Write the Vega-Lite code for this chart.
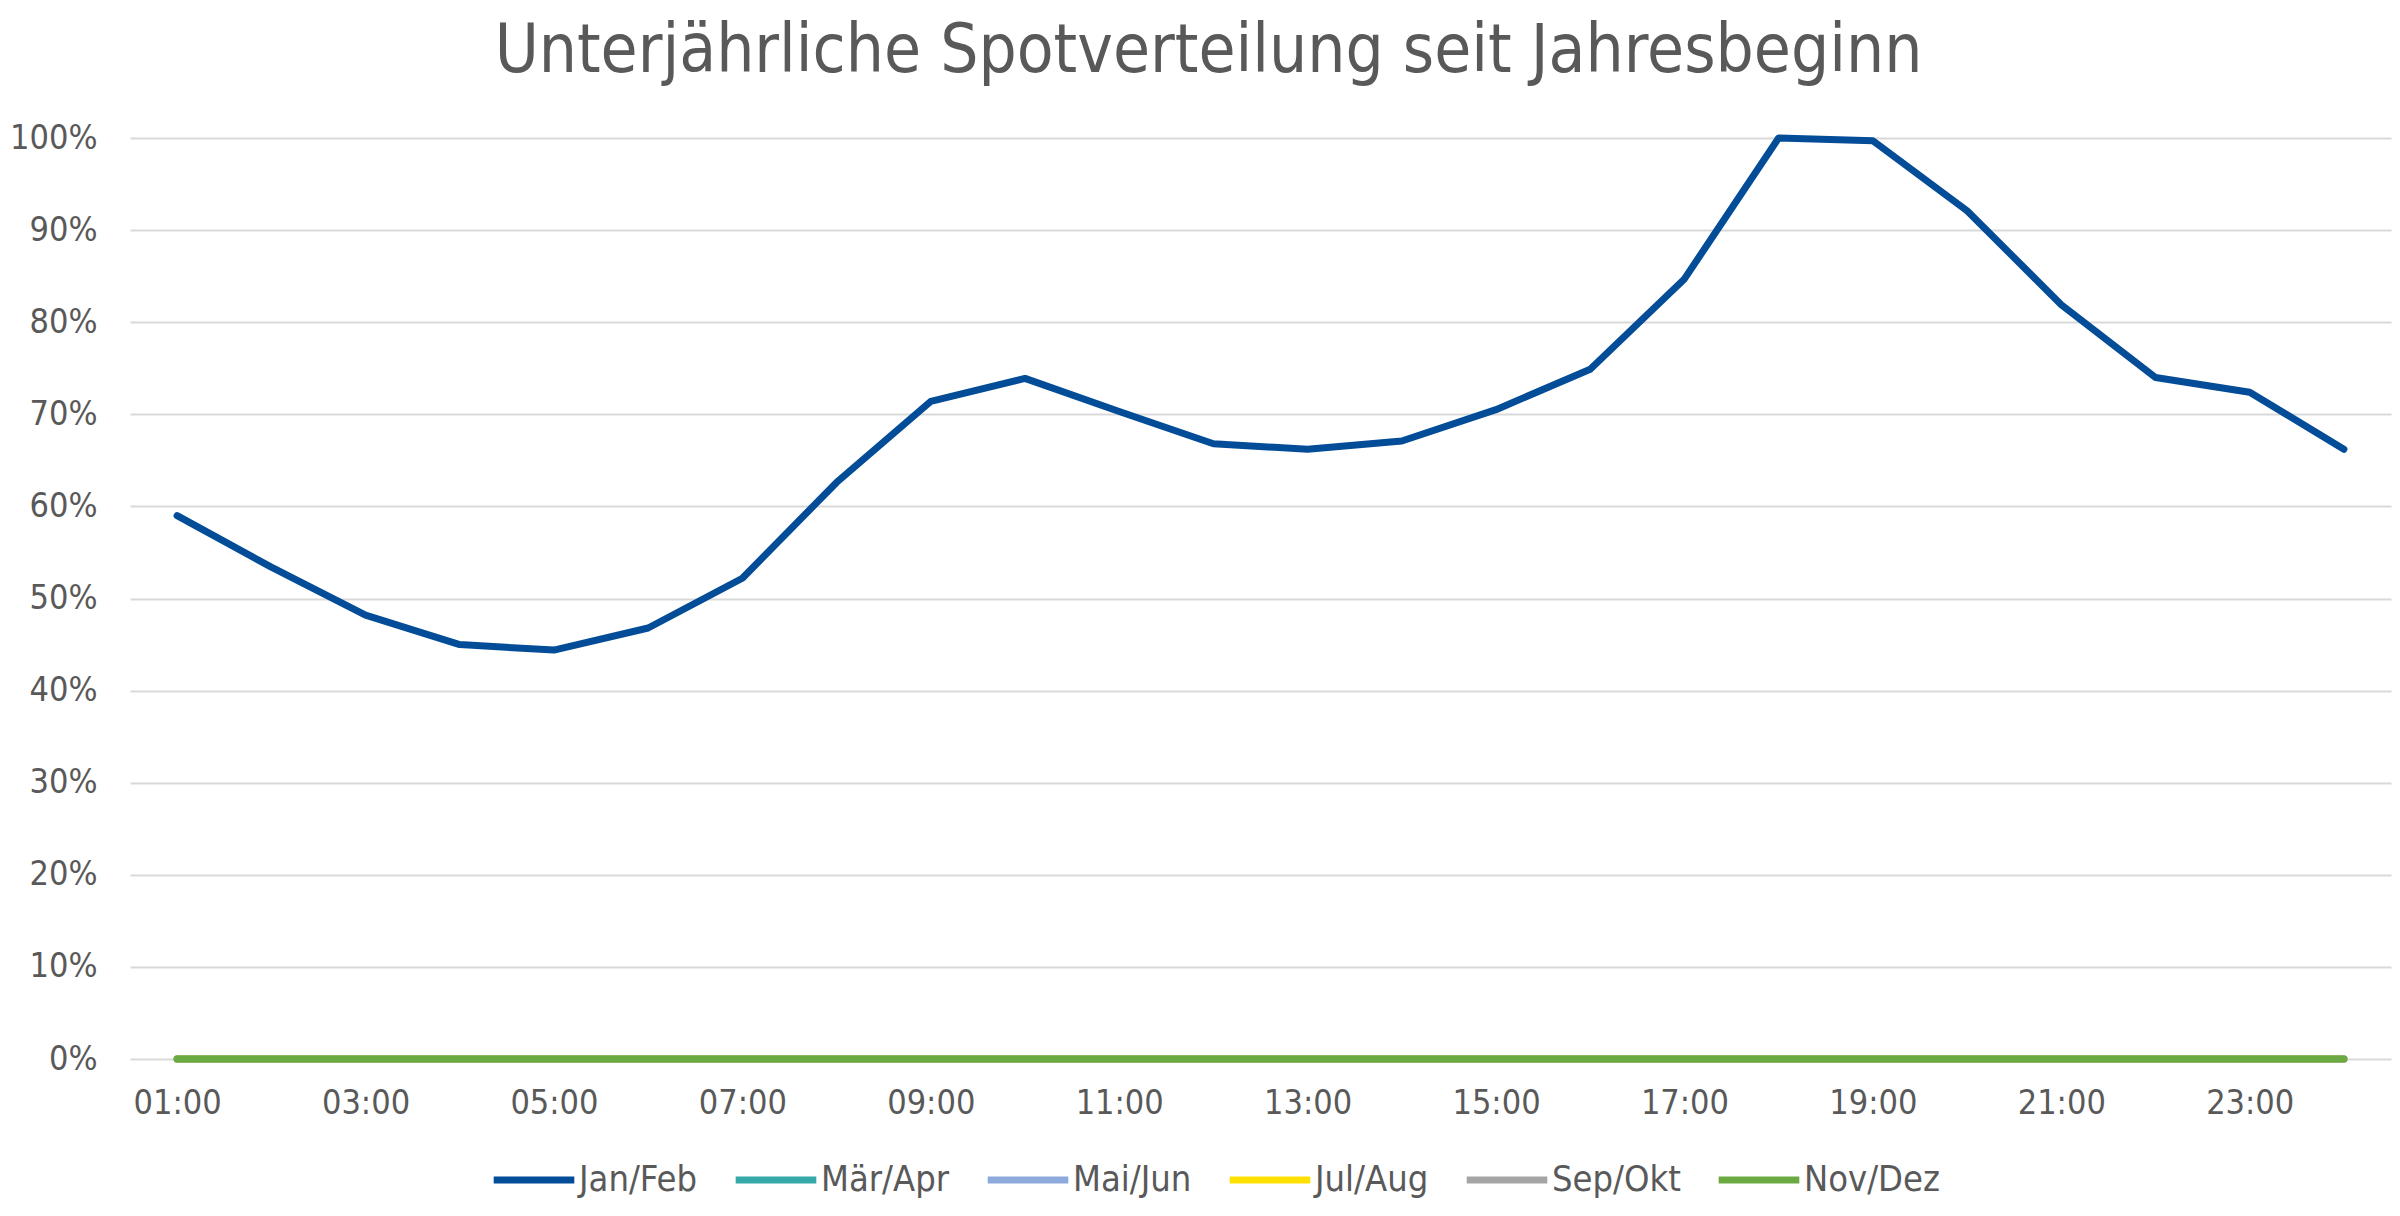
{
  "$schema": "https://vega.github.io/schema/vega-lite/v6.json",
  "width": 2261,
  "height": 921,
  "autosize": {"type": "none"},
  "padding": {"left": 130, "top": 138, "right": 9, "bottom": 157},
  "background": "white",
  "title": {
    "text": "Unterjährliche Spotverteilung seit Jahresbeginn",
    "font": "DejaVu Sans Condensed, DejaVu Sans",
    "fontSize": 67,
    "fontWeight": "normal",
    "color": "#595959",
    "anchor": "middle",
    "frame": "group",
    "dx": -52,
    "baseline": "alphabetic",
    "offset": -18
  },
  "data": {
    "values": [
      {"h":"01:00","s":"Jan/Feb","v":0.590},{"h":"02:00","s":"Jan/Feb","v":0.534},{"h":"03:00","s":"Jan/Feb","v":0.482},{"h":"04:00","s":"Jan/Feb","v":0.450},{"h":"05:00","s":"Jan/Feb","v":0.444},{"h":"06:00","s":"Jan/Feb","v":0.468},{"h":"07:00","s":"Jan/Feb","v":0.522},{"h":"08:00","s":"Jan/Feb","v":0.626},{"h":"09:00","s":"Jan/Feb","v":0.714},{"h":"10:00","s":"Jan/Feb","v":0.739},{"h":"11:00","s":"Jan/Feb","v":0.703},{"h":"12:00","s":"Jan/Feb","v":0.668},{"h":"13:00","s":"Jan/Feb","v":0.662},{"h":"14:00","s":"Jan/Feb","v":0.671},{"h":"15:00","s":"Jan/Feb","v":0.705},{"h":"16:00","s":"Jan/Feb","v":0.749},{"h":"17:00","s":"Jan/Feb","v":0.847},{"h":"18:00","s":"Jan/Feb","v":1.000},{"h":"19:00","s":"Jan/Feb","v":0.997},{"h":"20:00","s":"Jan/Feb","v":0.921},{"h":"21:00","s":"Jan/Feb","v":0.819},{"h":"22:00","s":"Jan/Feb","v":0.740},{"h":"23:00","s":"Jan/Feb","v":0.724},{"h":"24:00","s":"Jan/Feb","v":0.662},
      {"h":"01:00","s":"Mär/Apr","v":0},{"h":"02:00","s":"Mär/Apr","v":0},{"h":"03:00","s":"Mär/Apr","v":0},{"h":"04:00","s":"Mär/Apr","v":0},{"h":"05:00","s":"Mär/Apr","v":0},{"h":"06:00","s":"Mär/Apr","v":0},{"h":"07:00","s":"Mär/Apr","v":0},{"h":"08:00","s":"Mär/Apr","v":0},{"h":"09:00","s":"Mär/Apr","v":0},{"h":"10:00","s":"Mär/Apr","v":0},{"h":"11:00","s":"Mär/Apr","v":0},{"h":"12:00","s":"Mär/Apr","v":0},{"h":"13:00","s":"Mär/Apr","v":0},{"h":"14:00","s":"Mär/Apr","v":0},{"h":"15:00","s":"Mär/Apr","v":0},{"h":"16:00","s":"Mär/Apr","v":0},{"h":"17:00","s":"Mär/Apr","v":0},{"h":"18:00","s":"Mär/Apr","v":0},{"h":"19:00","s":"Mär/Apr","v":0},{"h":"20:00","s":"Mär/Apr","v":0},{"h":"21:00","s":"Mär/Apr","v":0},{"h":"22:00","s":"Mär/Apr","v":0},{"h":"23:00","s":"Mär/Apr","v":0},{"h":"24:00","s":"Mär/Apr","v":0},
      {"h":"01:00","s":"Mai/Jun","v":0},{"h":"02:00","s":"Mai/Jun","v":0},{"h":"03:00","s":"Mai/Jun","v":0},{"h":"04:00","s":"Mai/Jun","v":0},{"h":"05:00","s":"Mai/Jun","v":0},{"h":"06:00","s":"Mai/Jun","v":0},{"h":"07:00","s":"Mai/Jun","v":0},{"h":"08:00","s":"Mai/Jun","v":0},{"h":"09:00","s":"Mai/Jun","v":0},{"h":"10:00","s":"Mai/Jun","v":0},{"h":"11:00","s":"Mai/Jun","v":0},{"h":"12:00","s":"Mai/Jun","v":0},{"h":"13:00","s":"Mai/Jun","v":0},{"h":"14:00","s":"Mai/Jun","v":0},{"h":"15:00","s":"Mai/Jun","v":0},{"h":"16:00","s":"Mai/Jun","v":0},{"h":"17:00","s":"Mai/Jun","v":0},{"h":"18:00","s":"Mai/Jun","v":0},{"h":"19:00","s":"Mai/Jun","v":0},{"h":"20:00","s":"Mai/Jun","v":0},{"h":"21:00","s":"Mai/Jun","v":0},{"h":"22:00","s":"Mai/Jun","v":0},{"h":"23:00","s":"Mai/Jun","v":0},{"h":"24:00","s":"Mai/Jun","v":0},
      {"h":"01:00","s":"Jul/Aug","v":0},{"h":"02:00","s":"Jul/Aug","v":0},{"h":"03:00","s":"Jul/Aug","v":0},{"h":"04:00","s":"Jul/Aug","v":0},{"h":"05:00","s":"Jul/Aug","v":0},{"h":"06:00","s":"Jul/Aug","v":0},{"h":"07:00","s":"Jul/Aug","v":0},{"h":"08:00","s":"Jul/Aug","v":0},{"h":"09:00","s":"Jul/Aug","v":0},{"h":"10:00","s":"Jul/Aug","v":0},{"h":"11:00","s":"Jul/Aug","v":0},{"h":"12:00","s":"Jul/Aug","v":0},{"h":"13:00","s":"Jul/Aug","v":0},{"h":"14:00","s":"Jul/Aug","v":0},{"h":"15:00","s":"Jul/Aug","v":0},{"h":"16:00","s":"Jul/Aug","v":0},{"h":"17:00","s":"Jul/Aug","v":0},{"h":"18:00","s":"Jul/Aug","v":0},{"h":"19:00","s":"Jul/Aug","v":0},{"h":"20:00","s":"Jul/Aug","v":0},{"h":"21:00","s":"Jul/Aug","v":0},{"h":"22:00","s":"Jul/Aug","v":0},{"h":"23:00","s":"Jul/Aug","v":0},{"h":"24:00","s":"Jul/Aug","v":0},
      {"h":"01:00","s":"Sep/Okt","v":0},{"h":"02:00","s":"Sep/Okt","v":0},{"h":"03:00","s":"Sep/Okt","v":0},{"h":"04:00","s":"Sep/Okt","v":0},{"h":"05:00","s":"Sep/Okt","v":0},{"h":"06:00","s":"Sep/Okt","v":0},{"h":"07:00","s":"Sep/Okt","v":0},{"h":"08:00","s":"Sep/Okt","v":0},{"h":"09:00","s":"Sep/Okt","v":0},{"h":"10:00","s":"Sep/Okt","v":0},{"h":"11:00","s":"Sep/Okt","v":0},{"h":"12:00","s":"Sep/Okt","v":0},{"h":"13:00","s":"Sep/Okt","v":0},{"h":"14:00","s":"Sep/Okt","v":0},{"h":"15:00","s":"Sep/Okt","v":0},{"h":"16:00","s":"Sep/Okt","v":0},{"h":"17:00","s":"Sep/Okt","v":0},{"h":"18:00","s":"Sep/Okt","v":0},{"h":"19:00","s":"Sep/Okt","v":0},{"h":"20:00","s":"Sep/Okt","v":0},{"h":"21:00","s":"Sep/Okt","v":0},{"h":"22:00","s":"Sep/Okt","v":0},{"h":"23:00","s":"Sep/Okt","v":0},{"h":"24:00","s":"Sep/Okt","v":0},
      {"h":"01:00","s":"Nov/Dez","v":0},{"h":"02:00","s":"Nov/Dez","v":0},{"h":"03:00","s":"Nov/Dez","v":0},{"h":"04:00","s":"Nov/Dez","v":0},{"h":"05:00","s":"Nov/Dez","v":0},{"h":"06:00","s":"Nov/Dez","v":0},{"h":"07:00","s":"Nov/Dez","v":0},{"h":"08:00","s":"Nov/Dez","v":0},{"h":"09:00","s":"Nov/Dez","v":0},{"h":"10:00","s":"Nov/Dez","v":0},{"h":"11:00","s":"Nov/Dez","v":0},{"h":"12:00","s":"Nov/Dez","v":0},{"h":"13:00","s":"Nov/Dez","v":0},{"h":"14:00","s":"Nov/Dez","v":0},{"h":"15:00","s":"Nov/Dez","v":0},{"h":"16:00","s":"Nov/Dez","v":0},{"h":"17:00","s":"Nov/Dez","v":0},{"h":"18:00","s":"Nov/Dez","v":0},{"h":"19:00","s":"Nov/Dez","v":0},{"h":"20:00","s":"Nov/Dez","v":0},{"h":"21:00","s":"Nov/Dez","v":0},{"h":"22:00","s":"Nov/Dez","v":0},{"h":"23:00","s":"Nov/Dez","v":0},{"h":"24:00","s":"Nov/Dez","v":0}
    ]
  },
  "mark": {"type": "line", "strokeWidth": 7, "strokeJoin": "round", "strokeCap": "round"},
  "encoding": {
    "x": {
      "field": "h",
      "type": "ordinal",
      "sort": null,
      "scale": {"type": "point", "padding": 0.5},
      "axis": {
        "title": null,
        "values": ["01:00","03:00","05:00","07:00","09:00","11:00","13:00","15:00","17:00","19:00","21:00","23:00"],
        "labelAngle": 0,
        "labelFont": "DejaVu Sans Condensed, DejaVu Sans",
        "labelFontSize": 34,
        "labelColor": "#595959",
        "labelPadding": 27,
        "ticks": false,
        "domain": false,
        "grid": false
      }
    },
    "y": {
      "field": "v",
      "type": "quantitative",
      "scale": {"domain": [0, 1], "nice": false},
      "axis": {
        "title": null,
        "values": [0, 0.1, 0.2, 0.3, 0.4, 0.5, 0.6, 0.7, 0.8, 0.9, 1],
        "format": ".0%",
        "labelFont": "DejaVu Sans Condensed, DejaVu Sans",
        "labelFontSize": 34,
        "labelColor": "#595959",
        "labelPadding": 33,
        "ticks": false,
        "domain": false,
        "grid": true,
        "gridColor": "#D9D9D9",
        "gridWidth": 2
      }
    },
    "color": {
      "field": "s",
      "type": "nominal",
      "sort": ["Jan/Feb","Mär/Apr","Mai/Jun","Jul/Aug","Sep/Okt","Nov/Dez"],
      "scale": {
        "domain": ["Jan/Feb","Mär/Apr","Mai/Jun","Jul/Aug","Sep/Okt","Nov/Dez"],
        "range": ["#034C97","#35A9A8","#8EA9DB","#FFE000","#A5A5A5","#6BAA42"]
      },
      "legend": {
        "title": null,
        "orient": "none",
        "direction": "horizontal",
        "legendX": 360,
        "legendY": 998,
        "symbolType": "stroke",
        "symbolSize": 6500,
        "symbolStrokeWidth": 7,
        "labelFont": "DejaVu Sans Condensed, DejaVu Sans",
        "labelFontSize": 36,
        "labelColor": "#595959",
        "labelOffset": 1,
        "columnPadding": 23
      }
    }
  },
  "config": {"view": {"stroke": null}}
}
